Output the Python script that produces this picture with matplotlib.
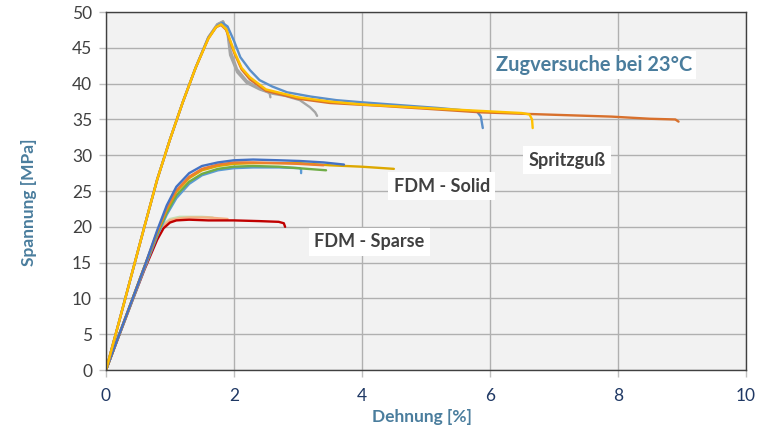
import matplotlib.pyplot as plt

plt.rcParams['font.family'] = ['Lato', 'DejaVu Sans']

# Spritzguss (injection moulded) specimens: strain [%], stress [MPa]
sg_yellow_x = [0, 0.2, 0.4, 0.6, 0.8, 1.0, 1.2, 1.4, 1.6, 1.72, 1.8, 1.88, 2.0, 2.12, 2.25, 2.5, 3.0, 3.5, 4.0, 4.6, 5.2, 5.85, 6.5, 6.62, 6.66, 6.67]
sg_yellow_y = [0, 6.6, 13.3, 20.0, 26.6, 32.2, 37.4, 42.2, 46.3, 47.9, 48.3, 47.6, 44.6, 42.2, 40.9, 39.2, 38.1, 37.5, 37.1, 36.8, 36.5, 36.2, 35.9, 35.7, 35.0, 33.8]
sg_blue_x = [0, 0.2, 0.4, 0.6, 0.8, 1.0, 1.2, 1.4, 1.6, 1.74, 1.82, 1.9, 2.0, 2.1, 2.25, 2.4, 2.6, 2.83, 3.2, 3.6, 4.0, 4.6, 5.2, 5.8, 5.86, 5.89]
sg_blue_y = [0, 6.6, 13.3, 20.0, 26.6, 32.2, 37.4, 42.2, 46.4, 48.1, 48.5, 48.0, 46.0, 43.7, 41.9, 40.5, 39.6, 38.8, 38.2, 37.7, 37.4, 37.0, 36.6, 36.1, 35.4, 33.8]
sg_orange_x = [0, 0.2, 0.4, 0.6, 0.8, 1.0, 1.2, 1.4, 1.6, 1.72, 1.8, 1.88, 2.0, 2.12, 2.25, 2.5, 3.0, 3.5, 4.3, 5.0, 5.85, 6.5, 7.2, 7.9, 8.5, 8.9, 8.95]
sg_orange_y = [0, 6.6, 13.3, 20.0, 26.6, 32.2, 37.4, 42.2, 46.3, 47.9, 48.2, 47.5, 44.4, 42.0, 40.6, 39.0, 37.9, 37.3, 36.9, 36.5, 36.0, 35.8, 35.6, 35.4, 35.1, 35.0, 34.7]
sg_gray1_x = [0, 0.2, 0.4, 0.6, 0.8, 1.0, 1.2, 1.4, 1.6, 1.74, 1.83, 1.9, 1.94, 2.05, 2.2, 2.4, 2.53, 2.56, 2.57]
sg_gray1_y = [0, 6.6, 13.3, 20.0, 26.6, 32.2, 37.4, 42.2, 46.5, 48.3, 48.7, 47.0, 44.0, 41.6, 40.1, 39.2, 38.8, 38.6, 38.1]
sg_gray2_x = [0, 0.2, 0.4, 0.6, 0.8, 1.0, 1.2, 1.4, 1.6, 1.74, 1.83, 1.9, 1.95, 2.05, 2.2, 2.4, 2.6, 2.8, 3.03, 3.19, 3.27, 3.3]
sg_gray2_y = [0, 6.6, 13.3, 20.0, 26.6, 32.2, 37.4, 42.2, 46.5, 48.3, 48.7, 47.2, 44.5, 42.0, 40.4, 39.3, 38.6, 38.3, 37.7, 36.7, 36.0, 35.5]

# FDM - Solid specimens
solid_blue_x = [0, 0.2, 0.4, 0.6, 0.8, 0.95, 1.1, 1.3, 1.5, 1.75, 2.0, 2.3, 2.7, 3.03, 3.4, 3.72]
solid_blue_y = [0, 4.8, 9.6, 14.4, 19.5, 23.0, 25.6, 27.5, 28.5, 29.0, 29.3, 29.4, 29.3, 29.2, 29.0, 28.7]
solid_orange_x = [0, 0.2, 0.4, 0.6, 0.8, 0.95, 1.1, 1.3, 1.5, 1.75, 2.0, 2.3, 2.7, 3.0, 3.4]
solid_orange_y = [0, 4.8, 9.6, 14.4, 19.3, 22.6, 25.1, 27.0, 28.1, 28.7, 29.0, 29.0, 28.9, 28.8, 28.6]
solid_yellow_x = [0, 0.2, 0.4, 0.6, 0.8, 0.95, 1.1, 1.3, 1.5, 1.75, 2.0, 2.3, 2.7, 3.03, 3.5, 4.0, 4.5]
solid_yellow_y = [0, 4.8, 9.6, 14.4, 19.2, 22.4, 24.9, 26.8, 27.9, 28.5, 28.8, 28.9, 28.9, 28.9, 28.6, 28.4, 28.1]
solid_green_x = [0, 0.2, 0.4, 0.6, 0.8, 0.95, 1.1, 1.3, 1.5, 1.75, 2.0, 2.3, 2.7, 3.0, 3.44]
solid_green_y = [0, 4.8, 9.6, 14.4, 19.0, 22.0, 24.4, 26.3, 27.4, 28.1, 28.4, 28.5, 28.4, 28.2, 27.9]
solid_lblue_x = [0, 0.2, 0.4, 0.6, 0.8, 0.95, 1.1, 1.3, 1.5, 1.75, 2.0, 2.3, 2.7, 3.03, 3.05, 3.05]
solid_lblue_y = [0, 4.7, 9.4, 14.1, 18.7, 21.7, 24.0, 26.0, 27.2, 27.9, 28.2, 28.3, 28.3, 28.2, 28.0, 27.5]

# FDM - Sparse specimens
sparse_green_x = [0, 0.2, 0.4, 0.6, 0.8, 0.9, 1.0, 1.15, 1.3, 1.5, 1.67]
sparse_green_y = [0, 4.8, 9.6, 14.4, 18.8, 20.4, 21.1, 21.4, 21.4, 21.4, 21.3]
sparse_salmon_x = [0, 0.2, 0.4, 0.6, 0.8, 0.9, 1.0, 1.15, 1.3, 1.6, 1.9]
sparse_salmon_y = [0, 4.8, 9.6, 14.4, 18.6, 20.2, 20.9, 21.2, 21.3, 21.3, 21.1]
sparse_red_x = [0, 0.2, 0.4, 0.6, 0.8, 0.9, 1.0, 1.1, 1.3, 1.6, 2.0, 2.4, 2.7, 2.78, 2.8]
sparse_red_y = [0, 4.7, 9.4, 14.0, 18.2, 19.8, 20.6, 20.9, 21.0, 20.9, 20.9, 20.8, 20.7, 20.5, 20.0]

curves = [
    (sparse_green_x, sparse_green_y, '#C5E0B4'),
    (sparse_salmon_x, sparse_salmon_y, '#F4B183'),
    (sparse_red_x, sparse_red_y, '#C00000'),
    (solid_lblue_x, solid_lblue_y, '#5B9BD5'),
    (solid_green_x, solid_green_y, '#70AD47'),
    (solid_yellow_x, solid_yellow_y, '#DDA800'),
    (solid_orange_x, solid_orange_y, '#ED7D31'),
    (solid_blue_x, solid_blue_y, '#4472C4'),
    (sg_gray1_x, sg_gray1_y, '#A5A5A5'),
    (sg_gray2_x, sg_gray2_y, '#A5A5A5'),
    (sg_blue_x, sg_blue_y, '#5B8FC9'),
    (sg_orange_x, sg_orange_y, '#D8702C'),
    (sg_yellow_x, sg_yellow_y, '#FFC000'),
]

fig = plt.figure(figsize=(7.68, 4.32), dpi=100)
ax = fig.add_axes([0.138, 0.1435, 0.833, 0.8285])
ax.set_facecolor('#F2F2F2')

for xs, ys, c in curves:
    ax.plot(xs, ys, color=c, lw=1.7, solid_capstyle='round')

ax.set_xlim(0, 10)
ax.set_ylim(0, 50)
ax.set_xticks(range(0, 11, 2))
ax.set_yticks(range(0, 51, 5))
ax.grid(True, color='#B0B0B0', lw=1.0)
ax.set_axisbelow(True)
for s in ax.spines.values():
    s.set_color('#404040')
    s.set_linewidth(1.0)
ax.tick_params(axis='y', colors='#BFBFBF', labelcolor='#404040', labelsize=12.5, length=5, width=1, pad=5)
ax.tick_params(axis='x', colors='#BFBFBF', labelcolor='#1F3864', labelsize=12.5, length=5, width=1, pad=8)

ax.set_xlabel('Dehnung [%]', color='#4A7D9D', fontsize=12.5, fontweight='bold')
ax.xaxis.set_label_coords(0.494, -0.108)
ax.set_ylabel('Spannung [MPa]', color='#4A7D9D', fontsize=12.5, fontweight='bold', va='center')
ax.yaxis.set_label_coords(-0.12, 0.47)

ax.text(7.63, 42.6, 'Zugversuche bei 23°C', color='#4A7D9D', fontsize=14.4, fontweight='bold',
        ha='center', va='center', bbox=dict(boxstyle='square,pad=0.2', fc='white', ec='none'))
box = dict(boxstyle='square,pad=0.3', fc='white', ec='none')
ax.text(7.2, 29.3, 'Spritzguß', color='#404040', fontsize=13, fontweight='bold',
        ha='center', va='center', bbox=box)
ax.text(5.25, 25.7, 'FDM - Solid', color='#404040', fontsize=13, fontweight='bold',
        ha='center', va='center', bbox=box)
ax.text(4.12, 17.9, 'FDM - Sparse', color='#404040', fontsize=13, fontweight='bold',
        ha='center', va='center', bbox=box)

fig.savefig('out.png', dpi=100)
